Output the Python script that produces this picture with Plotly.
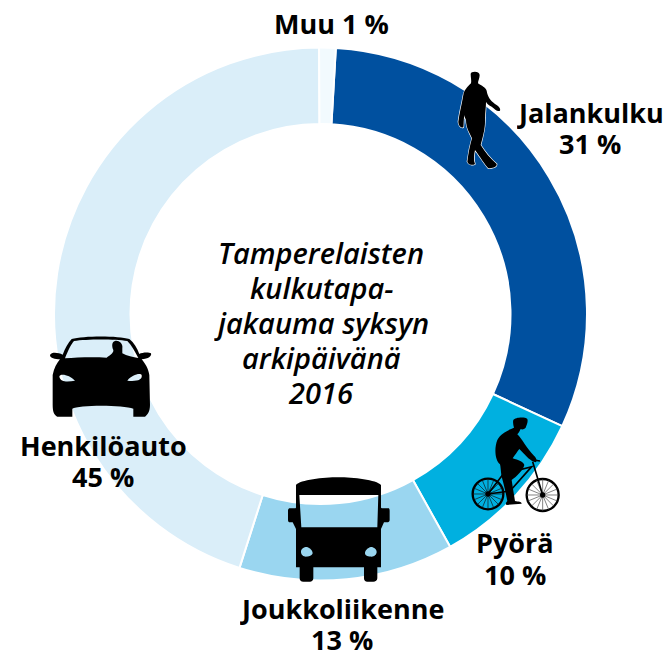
import base64
import plotly.graph_objects as go

categories = ["Jalankulku", "Pyörä", "Joukkoliikenne", "Henkilöauto", "Muu"]
values = [31, 10, 13, 45, 1]
colors = ["#00509F", "#00B0E0", "#9AD6F0", "#DAEEF9", "#F2FAFE"]
label_pos = {"Jalankulku": (590, 112, 143), "Pyörä": (515, 542, 574), "Joukkoliikenne": (342, 608, 639),
             "Henkilöauto": (103, 445, 476), "Muu": (331, 23, None)}
center_lines = ["Tamperelaisten", "kulkutapa-", "jakauma syksyn", "arkipäivänä", "2016"]
center_y = [252, 287, 322, 357, 392]
W, H = 666, 651

walker = ('<g transform="translate(440,50) scale(.3333)"><path stroke="#fff" stroke-width="4" paint-order="stroke" d="'
          'M92,72 C92,64 118,62 119,75 C119,85 114,92 114,100 C125,108 137,112 140,122 C143,140 150,150 165,162 '
          'C175,168 183,175 180,182 C172,186 165,178 155,170 C145,165 140,160 138,155 C138,175 135,190 135,215 '
          'C135,235 130,255 122,285 C135,305 150,325 170,342 C172,352 155,355 145,355 C135,345 120,320 105,300 '
          'C102,315 100,330 105,342 C100,347 85,345 82,335 C85,310 90,285 96,265 C90,250 78,235 78,210 '
          'C76,205 73,200 73,195 C70,215 72,225 70,232 C62,235 55,225 55,215 C58,190 65,165 70,135 '
          'C72,120 85,108 93,100 C95,92 92,82 92,72 Z"/></g>')


def wheel(cx, cy, r, spoke):
    s = f'<circle cx="{cx}" cy="{cy}" r="{r}" fill="none" stroke="#000" stroke-width="7"/>'
    for a, b in [(1, 0), (0, 1), (.7, .7), (.7, -.7), (.92, .38), (.92, -.38), (.38, .92), (.38, -.92)]:
        s += (f'<line x1="{cx-a*r:.1f}" y1="{cy-b*r:.1f}" x2="{cx+a*r:.1f}" y2="{cy+b*r:.1f}" '
              f'stroke="{spoke}" stroke-width="2"/>')
    return s + f'<circle cx="{cx}" cy="{cy}" r="8" fill="#000"/>'


bike = ('<g transform="translate(460,405) scale(.3333)">' + wheel(84, 267, 46, "#111") + wheel(248, 270, 48, "#444") +
        '<path fill="none" stroke="#000" stroke-width="5" d="M84,267 L150,258 L215,185 L140,205 L150,258 M218,170 L248,270 '
        'M84,267 L135,200 M222,165 L240,168"/>'
        '<path d="M160,45 C165,37 195,35 202,42 C205,50 200,60 197,68 C192,72 188,75 182,72 C178,80 176,84 172,88 '
        'C185,100 200,130 222,152 C228,158 232,165 228,172 C220,172 212,165 205,160 L178,132 C172,140 165,150 158,160 '
        'C175,165 190,170 193,180 C190,195 170,215 155,225 C158,245 162,270 165,288 C175,290 185,290 185,296 '
        'L140,300 C136,298 138,292 142,288 C138,265 132,240 125,215 C122,195 122,185 120,178 '
        'C105,165 102,130 112,105 C122,85 145,75 162,68 C160,60 158,52 160,45 Z"/></g>')

bus = ('<g transform="translate(280,470) scale(.3333)"><path fill-rule="evenodd" d="'
       'M48,45 C60,30 130,22 175,22 C220,22 290,30 303,45 L303,112 C303,116 307,115 312,115 L325,115 C328,115 329,118 329,122 '
       'L329,150 C329,155 326,157 320,157 L312,157 L303,177 L303,292 L292,292 L292,325 C292,332 286,335 280,335 L262,335 '
       'C256,335 252,332 252,325 L252,292 L100,292 L100,325 C100,332 95,335 90,335 L70,335 C63,335 59,332 59,325 L59,292 '
       'L48,292 L48,177 L38,157 L30,157 C26,157 24,154 24,150 L24,122 C24,118 26,115 30,115 L42,115 C46,115 48,116 48,112 Z '
       'M58,75 L295,75 L292,172 L64,172 Z '
       'M63,246 C63,236 72,231 80,231 C90,233 98,242 98,250 C95,258 85,260 78,260 C70,260 63,254 63,246 Z '
       'M255,250 C255,242 263,233 273,231 C282,231 290,238 290,246 C290,254 282,260 275,260 C265,260 256,258 255,250 Z"/></g>')

car = ('<g transform="translate(40,330) scale(.3333)"><path fill-rule="evenodd" d="'
       'M95,27 C130,17 235,17 268,27 C282,38 292,55 298,72 C305,68 325,66 333,70 C336,78 325,87 305,88 C315,100 325,115 328,135 '
       'L330,225 C330,245 322,255 315,260 L280,260 L280,236 C250,224 115,224 97,236 L97,260 L52,260 C42,255 38,245 38,225 '
       'L38,135 C42,115 50,100 60,88 C45,87 30,85 30,75 C35,65 55,68 68,74 C75,55 85,38 95,27 Z '
       'M75,85 C85,60 92,45 102,33 C140,27 225,27 262,33 C275,45 285,65 295,84 C280,82 260,78 247,70 L247,55 '
       'C250,40 235,30 225,33 C215,35 215,50 220,60 C222,70 205,78 200,83 C160,80 110,82 75,85 Z '
       'M58,140 C60,128 90,135 105,152 C85,155 62,158 58,140 Z '
       'M262,152 C275,135 300,128 305,135 C308,150 290,155 262,152 Z"/></g>')

svg = (f'<svg xmlns="http://www.w3.org/2000/svg" width="{W}" height="{H}" viewBox="0 0 {W} {H}">'
       + walker + bike + bus + car + '</svg>')
uri = "data:image/svg+xml;base64," + base64.b64encode(svg.encode()).decode()

fig = go.Figure(go.Pie(
    labels=categories, values=values, sort=False, direction="clockwise", rotation=3.3,
    hole=0.713, textinfo="none", hoverinfo="label+percent", showlegend=False,
    marker=dict(colors=colors, line=dict(color="white", width=2)),
    domain=dict(x=[54 / W, 587 / W], y=[1 - 580.5 / H, 1 - 47.5 / H]),
))


def note(text, x, y, height=None, valign="middle", **font):
    return dict(text=text, x=x / W, y=1 - y / H, xref="paper", yref="paper", showarrow=False,
                align="center", xanchor="center", yanchor="middle", height=height, valign=valign,
                borderpad=0, font=dict(family="Open Sans", color="#000", **font))


annotations = []
for name, v in zip(categories, values):
    x, y1, y2 = label_pos[name]
    if y2 is None:
        annotations.append(note(f"{name} {v} %", x, y1, size=27, weight=700))
    else:
        annotations.append(note(name, x, y1, height=36, size=27, weight=700))
        annotations.append(note(f"{v} %", x, y2, height=24, size=27, weight=700))
for line, y in zip(center_lines, center_y):
    annotations.append(note(line, 321, y + 2.25, height=35, valign="bottom", size=29, style="italic", weight=600))

fig.update_layout(
    width=W, height=H, margin=dict(l=0, r=0, t=0, b=0), paper_bgcolor="white",
    annotations=annotations,
    images=[dict(source=uri, xref="paper", yref="paper", x=0, y=1, sizex=1, sizey=1,
                 xanchor="left", yanchor="top", sizing="stretch", layer="above")],
)
fig.write_html("out.html", config=dict(displayModeBar=False),
               post_script="document.body.style.margin='0';document.documentElement.style.overflow='hidden';")
